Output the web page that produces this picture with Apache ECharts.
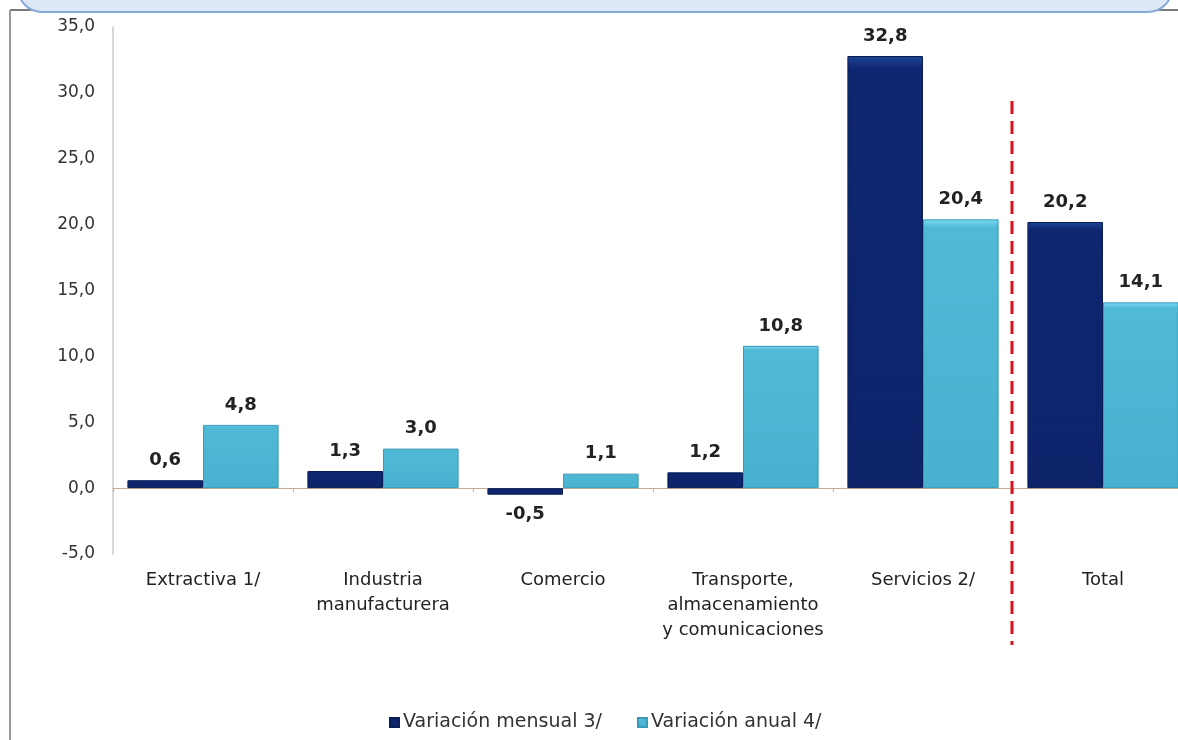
<!DOCTYPE html>
<html>
<head>
<meta charset="utf-8">
<script src="https://cdn.jsdelivr.net/npm/echarts@6/dist/echarts.min.js"></script>
<style>html,body{margin:0;padding:0;background:#fff;overflow:hidden;width:1178px;height:740px}#c{width:1195px;height:740px}</style>
</head>
<body>
<div id="c"></div>
<script>
var categories = ['Extractiva 1/', 'Industria\nmanufacturera', 'Comercio', 'Transporte,\nalmacenamiento\ny comunicaciones', 'Servicios 2/', 'Total'];
var mensual = [0.6, 1.3, -0.5, 1.2, 32.8, 20.2];
var anual = [4.8, 3.0, 1.1, 10.8, 20.4, 14.1];
var seriesNames = ['Variación mensual 3/', 'Variación anual 4/'];
var yTicks = {min: -5, max: 35, interval: 5};

function fmt(v) { return v.toFixed(1).replace('.', ','); }
function toData(arr) {
  return arr.map(function (v) {
    return v < 0 ? {value: v, label: {position: 'bottom'}} : v;
  });
}
var FONT = 'DejaVu Sans, Verdana, sans-serif';
var labelCfg = {show: true, position: 'top', distance: 11, fontSize: 18, fontWeight: 'bold', color: '#222', fontFamily: FONT, formatter: function (p) { return fmt(p.value); }};
var chart = echarts.init(document.getElementById('c'));
chart.setOption({
  animation: false,
  textStyle: {fontFamily: FONT},
  grid: {left: 113, top: 27, bottom: 186, right: 2, containLabel: false},
  legend: {
    data: seriesNames, left: 384, top: 708, itemWidth: 9, itemHeight: 9, itemGap: 35,
    icon: 'rect',
    textStyle: {fontSize: 19, color: '#333', fontFamily: FONT, padding: [0, 0, 0, -1]}
  },
  xAxis: [{
    type: 'category', data: categories,
    axisLine: {show: false, onZero: false}, axisTick: {show: false},
    axisLabel: {fontSize: 18, color: '#222', lineHeight: 25, margin: 14, interval: 0, fontFamily: FONT}
  }, {
    type: 'category', data: categories, position: 'bottom',
    axisLine: {show: true, onZero: true, lineStyle: {color: '#c8ab93', width: 1}},
    axisTick: {show: true, length: 4, lineStyle: {color: '#c8ab93'}},
    axisLabel: {show: false}
  }],
  yAxis: {
    type: 'value', min: yTicks.min, max: yTicks.max, interval: yTicks.interval,
    axisLine: {show: true, lineStyle: {color: '#d9d9d9', width: 2}},
    axisTick: {show: false}, splitLine: {show: false},
    axisLabel: {fontSize: 17, color: '#333', margin: 18, formatter: fmt, fontFamily: FONT}
  },
  series: [{
    name: seriesNames[0], type: 'bar', data: toData(mensual), barGap: 0, barCategoryGap: '16%',
    itemStyle: {
      color: {type: 'linear', x: 0, y: 0, x2: 0, y2: 1, colorStops: [{offset: 0, color: '#1d4596'}, {offset: 0.03, color: '#0e266f'}, {offset: 1, color: '#0d246b'}]},
      borderColor: '#0a1c55', borderWidth: 1
    },
    label: labelCfg
  }, {
    name: seriesNames[1], type: 'bar', data: toData(anual), barGap: 0, barCategoryGap: '16%',
    itemStyle: {
      color: {type: 'linear', x: 0, y: 0, x2: 0, y2: 1, colorStops: [{offset: 0, color: '#7ddcf2'}, {offset: 0.03, color: '#50b9d6'}, {offset: 1, color: '#48b1cf'}]},
      borderColor: '#3a9ab8', borderWidth: 1
    },
    label: labelCfg
  }],
  graphic: [
    {type: 'rect', shape: {x: 18, y: -40, width: 1154, height: 52, r: 24}, style: {fill: '#dde8f7', stroke: '#86a9d8', lineWidth: 2}, z: 10},
    {type: 'line', shape: {x1: 10, y1: 10, x2: 1195, y2: 10}, style: {stroke: '#7a7a7a', lineWidth: 2}, z: 9},
    {type: 'line', shape: {x1: 10, y1: 10, x2: 10, y2: 740}, style: {stroke: '#9a9a9a', lineWidth: 2}, z: 9},
    {type: 'line', shape: {x1: 1012, y1: 101, x2: 1012, y2: 645}, style: {stroke: '#d9131b', lineWidth: 3, lineDash: [13, 7]}, z: 9}
  ]
});
</script>
</body>
</html>
